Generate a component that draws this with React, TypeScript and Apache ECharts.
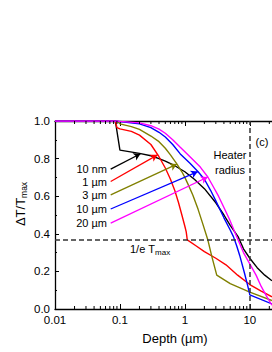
import React, { useEffect, useRef } from 'react';
import * as echarts from 'echarts';

const FONT = '"Liberation Sans", Arial, sans-serif';

const xTickLabels = ['0.01', '0.1', '1', '10'];
const yTickLabels = ['0.0', '0.2', '0.4', '0.6', '0.8', '1.0'];
const xMinorTicks = [0.02, 0.03, 0.04, 0.05, 0.06, 0.07, 0.08, 0.09, 0.2, 0.3, 0.4, 0.5, 0.6, 0.7, 0.8, 0.9, 2, 3, 4, 5, 6, 7, 8, 9, 20];

const seriesNames = ['10 nm', '1 µm', '3 µm', '10 µm', '20 µm'];
const seriesColors = ['#000000', '#ff0000', '#808000', '#0000ff', '#ff00ff'];

const curve10nm: [number, number][] = [
  [0.01, 1], [0.085, 1], [0.1, 0.845], [0.2, 0.828], [0.3, 0.815], [0.4, 0.8], [0.5, 0.787],
  [0.7, 0.762], [1.0, 0.73], [1.4, 0.69], [2, 0.64], [3, 0.565], [4, 0.5], [5, 0.445],
  [6.6, 0.385], [8, 0.32], [10, 0.27], [13, 0.22], [17, 0.18], [22, 0.15],
];
const curve1um: [number, number][] = [
  [0.01, 1], [0.085, 1], [0.09, 0.965], [0.1, 0.958], [0.15, 0.945], [0.2, 0.925], [0.3, 0.875],
  [0.4, 0.81], [0.5, 0.75], [0.6, 0.69], [0.7, 0.63], [0.8, 0.565], [0.9, 0.5], [1.0, 0.44],
  [1.05, 0.41], [1.09, 0.368], [1.5, 0.335], [2, 0.305], [3, 0.27], [4.3, 0.235], [6.5, 0.18],
  [10, 0.13], [15, 0.095], [22, 0.065],
];
const curve3um: [number, number][] = [
  [0.01, 1], [0.09, 1], [0.1, 0.985], [0.15, 0.97], [0.2, 0.955], [0.3, 0.92], [0.4, 0.89],
  [0.5, 0.855], [0.6, 0.82], [0.757, 0.771], [0.9, 0.73], [1.0, 0.7], [1.15, 0.655],
  [1.33, 0.605], [1.6, 0.53], [1.9, 0.45], [2.25, 0.37], [2.6, 0.28], [3.1, 0.18],
  [5, 0.135], [10, 0.09], [22, 0.045],
];
const curve10um: [number, number][] = [
  [0.01, 1], [0.09, 1], [0.1, 0.997], [0.2, 0.985], [0.3, 0.965], [0.4, 0.94], [0.5, 0.915],
  [0.65, 0.875], [0.85, 0.825], [1.2, 0.775], [1.6, 0.73], [2, 0.69], [2.5, 0.63], [3, 0.575],
  [4, 0.485], [5, 0.42], [5.6, 0.385], [6.3, 0.335], [7, 0.285], [8.3, 0.19], [9.2, 0.13],
  [9.9, 0.085], [10, 0.075], [22, 0.027],
];
const curve20um: [number, number][] = [
  [0.01, 1], [0.09, 1], [0.1, 0.998], [0.2, 0.99], [0.3, 0.975], [0.4, 0.957], [0.5, 0.935],
  [0.65, 0.9], [0.85, 0.86], [1.2, 0.81], [1.73, 0.755], [2.26, 0.702], [2.8, 0.645], [3.3, 0.6],
  [4, 0.54], [4.9, 0.475], [6.2, 0.39], [8, 0.3], [10, 0.24], [12.5, 0.18], [15, 0.12],
  [18, 0.07], [22, 0.02],
];
const curves = [curve10nm, curve1um, curve3um, curve10um, curve20um];

// arrow annotations: [start, end] in data coordinates
const arrows: [[number, number], [number, number]][] = [
  [[0.0721, 0.744], [0.2075, 0.826]],
  [[0.0721, 0.678], [0.38, 0.82]],
  [[0.0721, 0.607], [0.757, 0.771]],
  [[0.0721, 0.532], [1.587, 0.731]],
  [[0.0721, 0.457], [2.26, 0.702]],
];

const X_MIN = 0.01;
const X_MAX = 22;
const INV_E = 1 / Math.E;
const HEATER_RADIUS = 10;

export default function App() {
  const ref = useRef<HTMLDivElement>(null);
  useEffect(() => {
    document.body.style.margin = '0';
    if (!ref.current) return;
    const chart = echarts.init(ref.current, undefined, { renderer: 'svg' });

    const lineSeries: any[] = curves.map((data, i) => ({
      type: 'line',
      name: seriesNames[i],
      data,
      showSymbol: false,
      symbol: 'none',
      lineStyle: { color: seriesColors[i], width: 1.4 },
      itemStyle: { color: seriesColors[i] },
      z: 3,
      markLine: {
        silent: true,
        symbol: ['none', 'arrow'],
        symbolSize: [6, 7],
        label: { show: false },
        lineStyle: { color: seriesColors[i], width: 1.3, type: 'solid' },
        data: [[{ coord: arrows[i][0] }, { coord: arrows[i][1] }]],
      },
    }));

    const option: any = {
      animation: false,
      grid: { left: 55, top: 121, right: 0, bottom: 43, containLabel: false },
      xAxis: [
        {
          type: 'log',
          logBase: 10,
          min: X_MIN,
          max: X_MAX,
          position: 'bottom',
          axisLine: { show: true, lineStyle: { color: '#000', width: 1.3 } },
          axisTick: { show: true, inside: true, length: 5, lineStyle: { color: '#000', width: 1 } },
          minorTick: { show: false },
          splitLine: { show: false },
          axisLabel: {
            fontSize: 11.5,
            fontFamily: FONT,
            color: '#000',
            margin: 5,
            showMaxLabel: false,
            formatter: (v: number) => {
              const s = String(+v.toPrecision(6));
              return xTickLabels.includes(s) ? s : '';
            },
          },
        },
        {
          type: 'log',
          logBase: 10,
          min: X_MIN,
          max: X_MAX,
          position: 'top',
          axisLine: { show: true, lineStyle: { color: '#000', width: 1.3 } },
          axisTick: { show: true, inside: true, length: 5, lineStyle: { color: '#000', width: 1 } },
          splitLine: { show: false },
          axisLabel: { show: false },
        },
      ],
      yAxis: {
        type: 'value',
        min: 0,
        max: 1,
        interval: 0.2,
        axisLine: { show: true, lineStyle: { color: '#000', width: 1.3 } },
        axisTick: { show: true, inside: true, length: 4, lineStyle: { color: '#000', width: 1 } },
        minorTick: { show: true, splitNumber: 2, length: 2, lineStyle: { color: '#000', width: 1 } },
        splitLine: { show: false },
        axisLabel: {
          fontSize: 11.5,
          fontFamily: FONT,
          color: '#000',
          margin: 5,
          formatter: (v: number) => yTickLabels[Math.round(v / 0.2)] ?? '',
        },
      },
      series: [
        ...lineSeries,
        {
          type: 'line',
          data: [],
          markLine: {
            silent: true,
            symbol: ['none', 'none'],
            label: { show: false },
            lineStyle: { color: '#333', width: 1.5, type: [5, 3] },
            data: [{ yAxis: INV_E }, { xAxis: HEATER_RADIUS }],
          },
        },
        {
          type: 'custom',
          xAxisIndex: 0,
          yAxisIndex: 0,
          silent: true,
          clip: false,
          data: xMinorTicks.map((v) => [v, 0]),
          renderItem: (_p: any, api: any) => {
            const x = api.value(0);
            const b = api.coord([x, 0]);
            const t = api.coord([x, 1]);
            return {
              type: 'group',
              children: [
                { type: 'line', shape: { x1: b[0], y1: b[1], x2: b[0], y2: b[1] - 3 }, style: { stroke: '#000', lineWidth: 1 } },
                { type: 'line', shape: { x1: t[0], y1: t[1], x2: t[0], y2: t[1] + 3 }, style: { stroke: '#000', lineWidth: 1 } },
              ],
            };
          },
          z: 5,
        },
      ],
      graphic: [
        ...seriesNames.map((n, i) => ({
          type: 'text',
          x: 107,
          y: [168.5, 181.5, 195, 209, 223][i],
          style: { text: n, font: `11px ${FONT}`, fill: '#000', align: 'right', verticalAlign: 'middle' },
        })),
        { type: 'text', x: 230, y: 155, style: { text: 'Heater', font: `11px ${FONT}`, fill: '#000', align: 'center', verticalAlign: 'middle' } },
        { type: 'text', x: 230, y: 170, style: { text: 'radius', font: `11px ${FONT}`, fill: '#000', align: 'center', verticalAlign: 'middle' } },
        { type: 'text', x: 262, y: 142, style: { text: '(c)', font: `11px ${FONT}`, fill: '#000', align: 'center', verticalAlign: 'middle' } },
        {
          type: 'text',
          x: 130,
          y: 249,
          style: {
            text: '{a|1/e T}{b|max}',
            fill: '#000',
            align: 'left',
            verticalAlign: 'middle',
            rich: {
              a: { fontSize: 11, fontFamily: FONT, lineHeight: 15, fill: '#000' },
              b: { fontSize: 8, fontFamily: FONT, lineHeight: 15, verticalAlign: 'bottom', fill: '#000' },
            },
          },
        },
        { type: 'text', x: 175, y: 338, style: { text: 'Depth (µm)', font: `13px ${FONT}`, fill: '#000', align: 'center', verticalAlign: 'middle' } },
        {
          type: 'text',
          x: 20,
          y: 204,
          rotation: Math.PI / 2,
          style: {
            text: '{a|ΔT/T}{b|max}',
            fill: '#000',
            align: 'center',
            verticalAlign: 'middle',
            rich: {
              a: { fontSize: 13, fontFamily: FONT, lineHeight: 17, fill: '#000' },
              b: { fontSize: 8.5, fontFamily: FONT, lineHeight: 17, verticalAlign: 'bottom', fill: '#000' },
            },
          },
        },
      ],
    };
    chart.setOption(option);
    return () => chart.dispose();
  }, []);
  return <div ref={ref} style={{ width: 272, height: 352, background: '#fff' }} />;
}
